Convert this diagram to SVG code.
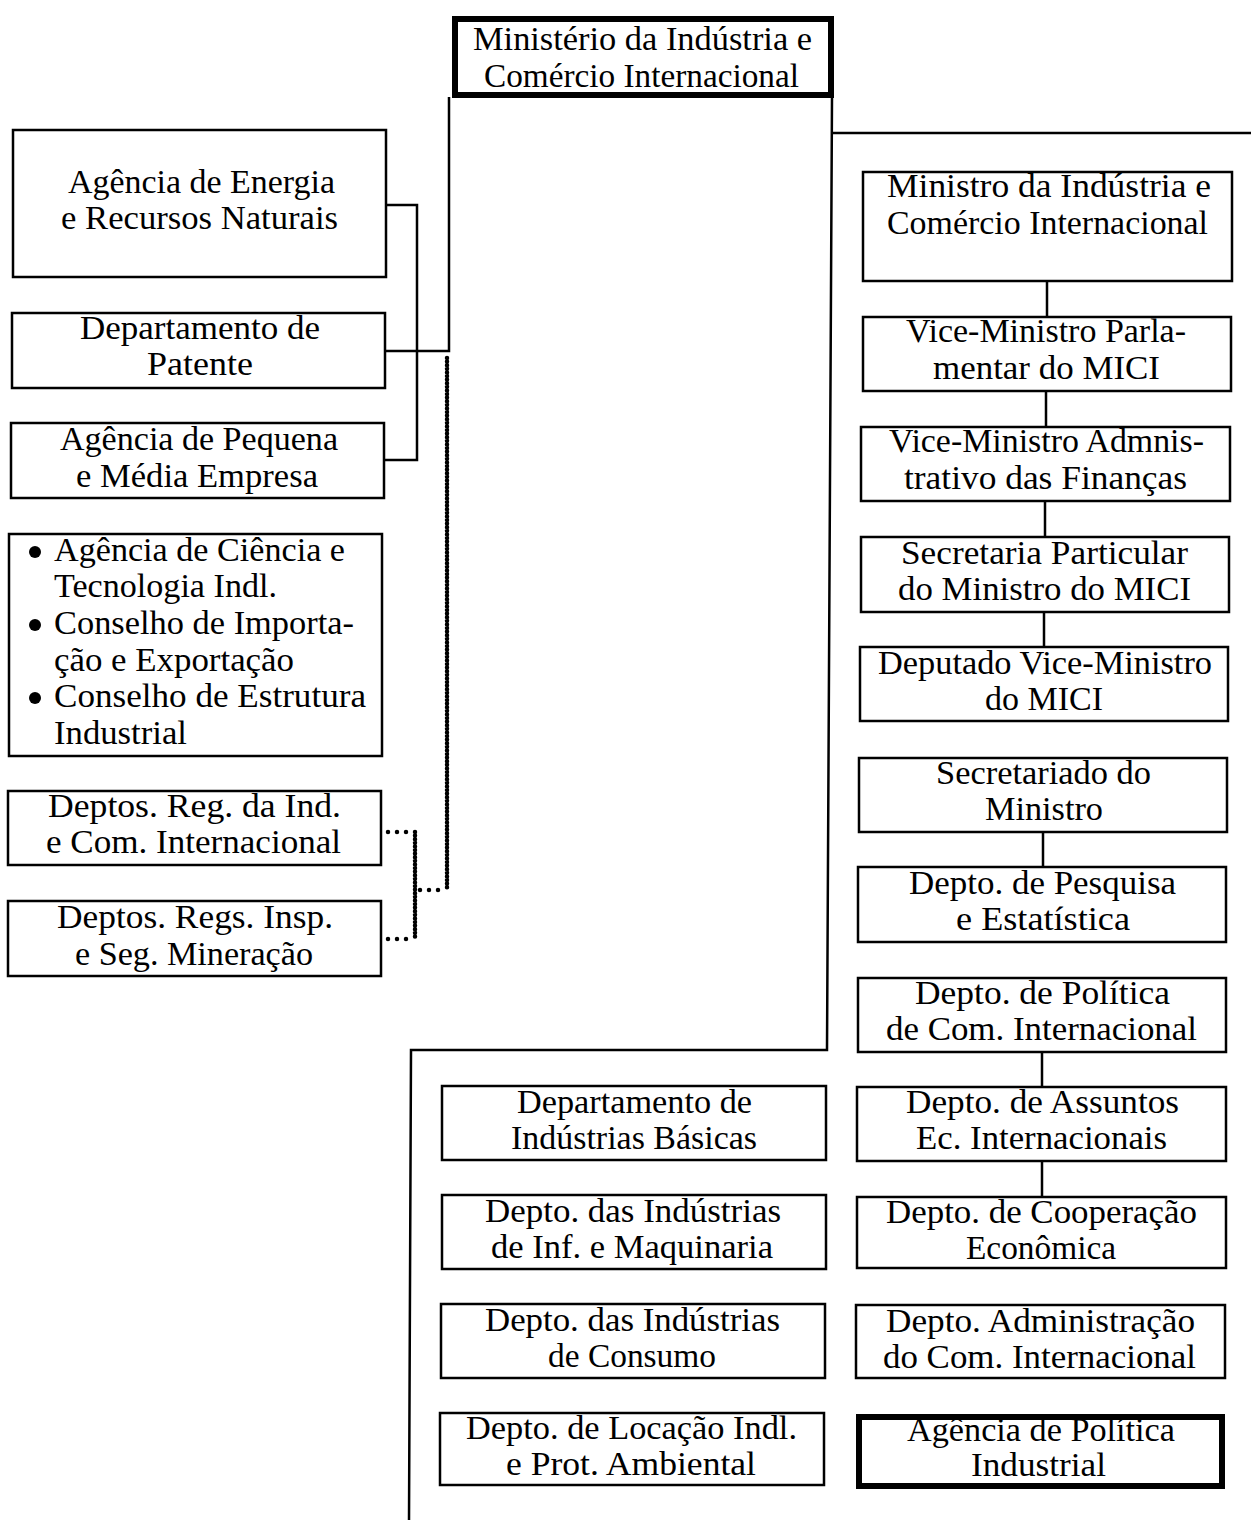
<svg xmlns="http://www.w3.org/2000/svg" width="1251" height="1520" viewBox="0 0 1251 1520">
<style>
.box{fill:#fff;stroke:#000;stroke-width:2.5}
.thick{fill:#fff;stroke:#000;stroke-width:6}
.t{font-family:"Liberation Serif","DejaVu Serif",serif;font-size:33px;fill:#000}
.ln{fill:none;stroke:#000;stroke-width:2.5}
.dv{fill:none;stroke:#000;stroke-width:4.5;stroke-linecap:round;stroke-dasharray:0 3.6}
.dh{fill:none;stroke:#000;stroke-width:4.5;stroke-linecap:round;stroke-dasharray:0 9}
</style>
<rect width="1251" height="1520" fill="#fff"/>
<g id="connectors">
<path class="ln" d="M449 97 V351 H385"/>
<path class="ln" d="M386 205 H417 V460 H384"/>
<path class="ln" d="M832 97 L827 1050 H411 L409 1520"/>
<path class="ln" d="M832 133 H1251"/>
<path class="ln" d="M1047 281 V317 M1046 391 V427 M1045 501 V537 M1044 612 V647 M1043 832 V867 M1042 1052 V1087 M1042 1161 V1197"/>
<path class="dv" d="M447 358 V890"/>
<path class="dh" d="M420 890 H447"/>
<path class="dv" d="M415 832 V939"/>
<path class="dh" d="M388 832 H415 M388 939 H415"/>
</g>
<g id="n-ministerio">
<rect class="thick" x="455" y="19" width="376" height="76"/>
<text class="t" x="473" y="50" textLength="339" lengthAdjust="spacingAndGlyphs">Ministério da Indústria e</text>
<text class="t" x="484" y="87" textLength="315" lengthAdjust="spacingAndGlyphs">Comércio Internacional</text>
</g>
<g id="n-energia">
<rect class="box" x="13" y="130" width="373" height="147"/>
<text class="t" x="68" y="193" textLength="267" lengthAdjust="spacingAndGlyphs">Agência de Energia</text>
<text class="t" x="61" y="229" textLength="277" lengthAdjust="spacingAndGlyphs">e Recursos Naturais</text>
</g>
<g id="n-patente">
<rect class="box" x="12" y="313" width="373" height="75"/>
<text class="t" x="80" y="339" textLength="240" lengthAdjust="spacingAndGlyphs">Departamento de</text>
<text class="t" x="147" y="375" textLength="106" lengthAdjust="spacingAndGlyphs">Patente</text>
</g>
<g id="n-pequena">
<rect class="box" x="11" y="423" width="373" height="75"/>
<text class="t" x="60" y="450" textLength="278" lengthAdjust="spacingAndGlyphs">Agência de Pequena</text>
<text class="t" x="76" y="487" textLength="242" lengthAdjust="spacingAndGlyphs">e Média Empresa</text>
</g>
<g id="n-ciencia">
<rect class="box" x="9" y="534" width="373" height="222"/>
<circle cx="35" cy="552" r="6"/>
<circle cx="35" cy="625" r="6"/>
<circle cx="35" cy="698" r="6"/>
<text class="t" x="54" y="561" textLength="291" lengthAdjust="spacingAndGlyphs">Agência de Ciência e</text>
<text class="t" x="54" y="597" textLength="223" lengthAdjust="spacingAndGlyphs">Tecnologia Indl.</text>
<text class="t" x="54" y="634" textLength="300" lengthAdjust="spacingAndGlyphs">Conselho de Importa-</text>
<text class="t" x="54" y="671" textLength="240" lengthAdjust="spacingAndGlyphs">ção e Exportação</text>
<text class="t" x="54" y="707" textLength="312" lengthAdjust="spacingAndGlyphs">Conselho de Estrutura</text>
<text class="t" x="54" y="744" textLength="133" lengthAdjust="spacingAndGlyphs">Industrial</text>
</g>
<g id="n-deptos-reg">
<rect class="box" x="8" y="791" width="373" height="74"/>
<text class="t" x="48" y="817" textLength="293" lengthAdjust="spacingAndGlyphs">Deptos. Reg. da Ind.</text>
<text class="t" x="46" y="853" textLength="295" lengthAdjust="spacingAndGlyphs">e Com. Internacional</text>
</g>
<g id="n-deptos-insp">
<rect class="box" x="8" y="901" width="373" height="75"/>
<text class="t" x="57" y="928" textLength="276" lengthAdjust="spacingAndGlyphs">Deptos. Regs. Insp.</text>
<text class="t" x="75" y="965" textLength="238" lengthAdjust="spacingAndGlyphs">e Seg. Mineração</text>
</g>
<g id="n-ministro">
<rect class="box" x="863" y="172" width="369" height="109"/>
<text class="t" x="887" y="197" textLength="324" lengthAdjust="spacingAndGlyphs">Ministro da Indústria e</text>
<text class="t" x="887" y="234" textLength="321" lengthAdjust="spacingAndGlyphs">Comércio Internacional</text>
</g>
<g id="n-vice-parl">
<rect class="box" x="863" y="317" width="368" height="74"/>
<text class="t" x="906" y="342" textLength="280" lengthAdjust="spacingAndGlyphs">Vice-Ministro Parla-</text>
<text class="t" x="933" y="379" textLength="227" lengthAdjust="spacingAndGlyphs">mentar do MICI</text>
</g>
<g id="n-vice-adm">
<rect class="box" x="861" y="427" width="369" height="74"/>
<text class="t" x="889" y="452" textLength="315" lengthAdjust="spacingAndGlyphs">Vice-Ministro Admnis-</text>
<text class="t" x="904" y="489" textLength="283" lengthAdjust="spacingAndGlyphs">trativo das Finanças</text>
</g>
<g id="n-secretaria">
<rect class="box" x="861" y="537" width="368" height="75"/>
<text class="t" x="901" y="564" textLength="287" lengthAdjust="spacingAndGlyphs">Secretaria Particular</text>
<text class="t" x="898" y="600" textLength="293" lengthAdjust="spacingAndGlyphs">do Ministro do MICI</text>
</g>
<g id="n-deputado">
<rect class="box" x="860" y="647" width="368" height="74"/>
<text class="t" x="878" y="674" textLength="334" lengthAdjust="spacingAndGlyphs">Deputado Vice-Ministro</text>
<text class="t" x="985" y="710" textLength="118" lengthAdjust="spacingAndGlyphs">do MICI</text>
</g>
<g id="n-secretariado">
<rect class="box" x="859" y="758" width="368" height="74"/>
<text class="t" x="936" y="784" textLength="215" lengthAdjust="spacingAndGlyphs">Secretariado do</text>
<text class="t" x="985" y="820" textLength="118" lengthAdjust="spacingAndGlyphs">Ministro</text>
</g>
<g id="n-pesquisa">
<rect class="box" x="858" y="867" width="368" height="75"/>
<text class="t" x="909" y="894" textLength="267" lengthAdjust="spacingAndGlyphs">Depto. de Pesquisa</text>
<text class="t" x="956" y="930" textLength="174" lengthAdjust="spacingAndGlyphs">e Estatística</text>
</g>
<g id="n-politica-com">
<rect class="box" x="858" y="978" width="368" height="74"/>
<text class="t" x="915" y="1004" textLength="255" lengthAdjust="spacingAndGlyphs">Depto. de Política</text>
<text class="t" x="886" y="1040" textLength="311" lengthAdjust="spacingAndGlyphs">de Com. Internacional</text>
</g>
<g id="n-assuntos">
<rect class="box" x="857" y="1087" width="369" height="74"/>
<text class="t" x="906" y="1113" textLength="273" lengthAdjust="spacingAndGlyphs">Depto. de Assuntos</text>
<text class="t" x="916" y="1149" textLength="251" lengthAdjust="spacingAndGlyphs">Ec. Internacionais</text>
</g>
<g id="n-cooperacao">
<rect class="box" x="857" y="1197" width="369" height="71"/>
<text class="t" x="886" y="1223" textLength="311" lengthAdjust="spacingAndGlyphs">Depto. de Cooperação</text>
<text class="t" x="966" y="1259" textLength="150" lengthAdjust="spacingAndGlyphs">Econômica</text>
</g>
<g id="n-administracao">
<rect class="box" x="856" y="1305" width="369" height="73"/>
<text class="t" x="886" y="1332" textLength="309" lengthAdjust="spacingAndGlyphs">Depto. Administração</text>
<text class="t" x="883" y="1368" textLength="313" lengthAdjust="spacingAndGlyphs">do Com. Internacional</text>
</g>
<g id="n-agencia-politica">
<rect class="thick" x="859" y="1417" width="363" height="69"/>
<text class="t" x="907" y="1441" textLength="268" lengthAdjust="spacingAndGlyphs">Agência de Política</text>
<text class="t" x="971" y="1476" textLength="135" lengthAdjust="spacingAndGlyphs">Industrial</text>
</g>
<g id="n-basicas">
<rect class="box" x="442" y="1086" width="384" height="74"/>
<text class="t" x="517" y="1113" textLength="235" lengthAdjust="spacingAndGlyphs">Departamento de</text>
<text class="t" x="511" y="1149" textLength="246" lengthAdjust="spacingAndGlyphs">Indústrias Básicas</text>
</g>
<g id="n-maquinaria">
<rect class="box" x="442" y="1195" width="384" height="74"/>
<text class="t" x="485" y="1222" textLength="296" lengthAdjust="spacingAndGlyphs">Depto. das Indústrias</text>
<text class="t" x="491" y="1258" textLength="282" lengthAdjust="spacingAndGlyphs">de Inf. e Maquinaria</text>
</g>
<g id="n-consumo">
<rect class="box" x="441" y="1304" width="384" height="74"/>
<text class="t" x="485" y="1331" textLength="295" lengthAdjust="spacingAndGlyphs">Depto. das Indústrias</text>
<text class="t" x="548" y="1367" textLength="168" lengthAdjust="spacingAndGlyphs">de Consumo</text>
</g>
<g id="n-locacao">
<rect class="box" x="440" y="1413" width="384" height="72"/>
<text class="t" x="466" y="1439" textLength="331" lengthAdjust="spacingAndGlyphs">Depto. de Locação Indl.</text>
<text class="t" x="506" y="1475" textLength="250" lengthAdjust="spacingAndGlyphs">e Prot. Ambiental</text>
</g>
</svg>
